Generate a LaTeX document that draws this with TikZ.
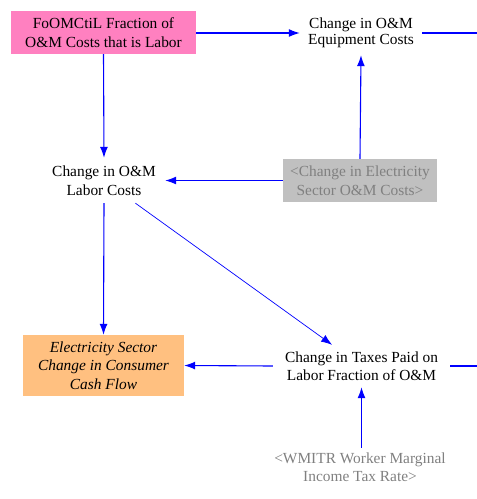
\documentclass[tikz,border=0pt]{standalone}
\usepackage{fontspec}
\setmainfont{Liberation Serif}
\usetikzlibrary{arrows.meta}
\definecolor{vblue}{RGB}{0,0,255}
\definecolor{vpink}{RGB}{255,128,192}
\definecolor{vorange}{RGB}{255,192,128}
\definecolor{vgrayfill}{RGB}{192,192,192}
\definecolor{vgraytext}{RGB}{128,128,128}
\begin{document}
\begin{tikzpicture}[x=1pt,y=-1pt,
  every node/.style={font=\fontsize{15.4}{18.5}\selectfont, align=center, inner sep=0pt},
  var/.style={rectangle, minimum width=#1},
  link/.style={draw=vblue, line width=1.1pt, -{Latex[length=11pt,width=8pt]}},
  plain/.style={draw=vblue, line width=1.1pt}
]
\useasboundingbox (0,0) rectangle (477,499);
\node[var=185, minimum height=43, fill=vpink] (frac) at (103.5,32.5) {FoOMCtiL Fraction of\\O\&M Costs that is Labor};
\node[var=122, minimum height=44] (equip) at (361,33) {\raisebox{-1.5pt}{\shortstack{Change in O\&M\\Equipment Costs}}};
\node[var=122, minimum height=45] (labor) at (104,180.5) {Change in O\&M\\Labor Costs};
\node[var=154, minimum height=43, fill=vgrayfill, text=vgraytext] (elec) at (360,180.5) {<Change in Electricity\\Sector O\&M Costs>};
\node[var=161, minimum height=61, fill=vorange, font=\fontsize{15.4}{18.5}\selectfont\itshape] (cash) at (103.5,365.5) {Electricity Sector\\Change in Consumer\\Cash Flow};
\node[var=177, minimum height=42] (taxes) at (361.5,366) {Change in Taxes Paid on\\Labor Fraction of O\&M};
\node[var=177, minimum height=38, text=vgraytext] (wmitr) at (360,467) {<WMITR Worker Marginal\\Income Tax Rate>};
\coordinate (out1) at (477,33);
\coordinate (out2) at (477,366);
\draw[link] (frac.east |- equip) -- (equip.west);
\draw[plain] (equip.east) -- (out1);
\draw[link] (frac.south) -- (labor.north);
\draw[link] (elec.west) -- (labor.east);
\draw[link] (elec.north) -- (equip.south);
\draw[link] (labor.south) -- (cash.north);
\draw[link, line width=0.7pt] (labor) -- (taxes);
\draw[link] (taxes.west) -- (cash.east);
\draw[plain] (taxes.east) -- (out2);
\draw[link] (wmitr.north -| taxes.south) -- (taxes.south);
\end{tikzpicture}
\end{document}
